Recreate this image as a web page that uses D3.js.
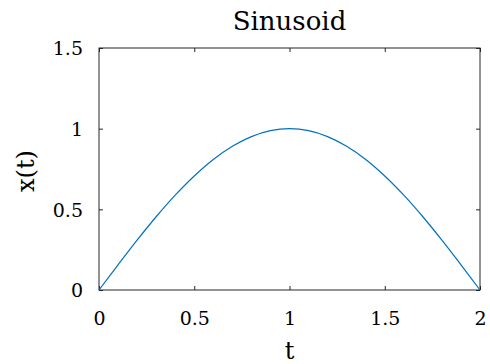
<!DOCTYPE html>
<html>
<head>
<meta charset="utf-8">
<script src="https://cdn.jsdelivr.net/npm/d3@7"></script>
<style>
  body { margin: 0; background: #fff; }
</style>
</head>
<body>
<div id="chart"></div>
<script>
// values
var tValues = [0, 0.1, 0.2, 0.3, 0.4, 0.5, 0.6, 0.7, 0.8, 0.9, 1.0,
               1.1, 1.2, 1.3, 1.4, 1.5, 1.6, 1.7, 1.8, 1.9, 2.0];
var xValues = [0, 0.156, 0.309, 0.454, 0.588, 0.707, 0.809, 0.891, 0.951, 0.988, 1.0,
               0.988, 0.951, 0.891, 0.809, 0.707, 0.588, 0.454, 0.309, 0.156, 0];
var xTicks = [0, 0.5, 1, 1.5, 2];
var yTicks = [0, 0.5, 1, 1.5];

var FONT = "'DejaVu Serif', serif";

var W = 490, H = 364;
var margin = {top: 48, right: 10, bottom: 74, left: 99};
var width = 480 - margin.left, height = 290 - margin.top;

var svg = d3.select("#chart").append("svg")
    .attr("width", W).attr("height", H);
var g = svg.append("g")
    .attr("transform", "translate(" + margin.left + "," + margin.top + ")");

var x = d3.scaleLinear().domain([0, 2]).range([0, width]);
var y = d3.scaleLinear().domain([0, 1.5]).range([height, 0]);

var fmt = function(d) { return String(d); };

// axes with inward ticks, mirrored on top / right
function styleAxis(sel) {
  sel.attr("font-family", null).attr("font-size", null);
  sel.select(".domain").remove();
  sel.selectAll("line").attr("stroke", "#262626").attr("stroke-width", 1);
  sel.selectAll("text").style("font-size", "19px").style("font-family", FONT).attr("fill", "#000");
}

g.append("g").attr("transform", "translate(0," + height + ")")
  .call(d3.axisBottom(x).tickValues(xTicks).tickFormat(fmt).tickSizeInner(-4).tickSizeOuter(0))
  .call(styleAxis)
  .selectAll("text").attr("y", 35).attr("dy", null);
g.append("g")
  .call(d3.axisLeft(y).tickValues(yTicks).tickFormat(fmt).tickSizeInner(-4).tickSizeOuter(0))
  .call(styleAxis)
  .selectAll("text").attr("x", -16).attr("dy", "0.36em");
g.append("g")
  .call(d3.axisTop(x).tickValues(xTicks).tickFormat("").tickSizeInner(-4).tickSizeOuter(0))
  .call(styleAxis);
g.append("g").attr("transform", "translate(" + width + ",0)")
  .call(d3.axisRight(y).tickValues(yTicks).tickFormat("").tickSizeInner(-4).tickSizeOuter(0))
  .call(styleAxis);

g.append("rect")
  .attr("width", width).attr("height", height)
  .attr("fill", "none").attr("stroke", "#262626").attr("stroke-width", 1);

var data = tValues.map(function(t, i) { return {t: t, v: xValues[i]}; });
var line = d3.line()
  .x(function(d) { return x(d.t); })
  .y(function(d) { return y(d.v); })
  .curve(d3.curveCatmullRom);

g.append("path").datum(data)
  .attr("d", line)
  .attr("fill", "none")
  .attr("stroke", "#0072BD")
  .attr("stroke-width", 1.2);

svg.append("text")
  .attr("x", margin.left + width / 2).attr("y", 30)
  .attr("text-anchor", "middle")
  .style("font-family", FONT)
  .style("font-size", "26px")
  .text("Sinusoid");

svg.append("text")
  .attr("x", margin.left + width / 2).attr("y", 359)
  .attr("text-anchor", "middle")
  .style("font-family", FONT)
  .style("font-size", "24px")
  .text("t");

svg.append("text")
  .attr("transform", "translate(34," + (margin.top + height / 2 + 2) + ") rotate(-90)")
  .attr("text-anchor", "middle")
  .style("font-family", FONT)
  .style("font-size", "24px")
  .text("x(t)");
</script>
</body>
</html>
